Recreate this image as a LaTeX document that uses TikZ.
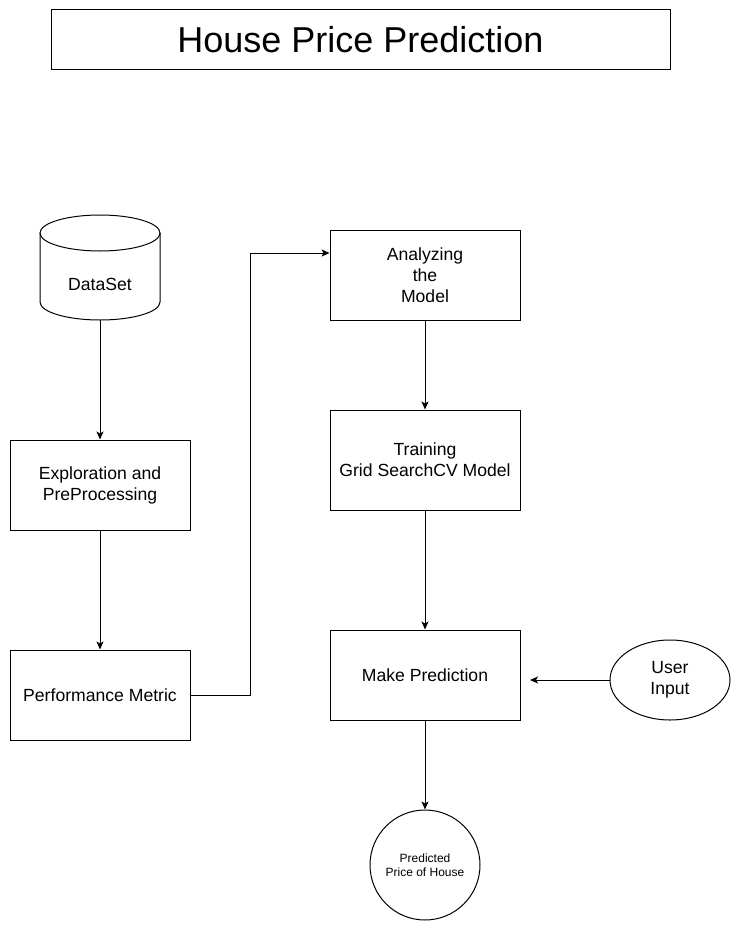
\documentclass[tikz,border=0pt]{standalone}
\usepackage{fontspec}
\setmainfont{Liberation Sans}
\usetikzlibrary{arrows.meta,shapes.geometric}
\begin{document}
\begin{tikzpicture}[x=1pt,y=-1pt,
  every node/.style={font=\fontsize{17.6}{21}\selectfont, align=center, inner sep=0pt},
  stepbox/.style={draw, line width=1pt, minimum width=180pt, minimum height=90pt},
  flow/.style={draw, line width=1pt, -{Stealth[length=8pt,width=7pt,inset=2pt]}}]
\useasboundingbox (0,0) rectangle (741,931);
\fill[white] (0,0) rectangle (741,931);

% title banner
\node[draw, line width=1pt, minimum width=619pt, minimum height=60pt,
      font=\fontsize{36}{40}\selectfont] (title) at (360.5,40) {House Price Prediction};

% dataset cylinder
\draw[line width=1pt] (40,233) -- (40,302) arc[start angle=180,end angle=0,x radius=60,y radius=18]
  -- (160,233);
\draw[line width=1pt] (100,233) ellipse[x radius=60,y radius=18];
\node (data) at (100,284) {DataSet};
\coordinate (dataBot) at (100,320);

% left column
\node[stepbox] (explore) at (100,485) {Exploration and\\PreProcessing};
\node[stepbox] (perf) at (100,695) {Performance Metric};

% right column
\node[stepbox, minimum width=190pt] (analyze) at (425,275) {Analyzing\\the\\ Model};
\node[stepbox, minimum width=190pt, minimum height=100pt] (train) at (425,460) {Training\\ Grid SearchCV Model};
\node[stepbox, minimum width=190pt] (predict) at (425,675) {Make Prediction};

% user input and output
\node[draw, ellipse, line width=1pt, minimum width=120pt, minimum height=80pt] (user) at (670,680) {User\\Input};
\node[draw, circle, line width=1pt, minimum size=110pt, font=\fontsize{12}{14}\selectfont] (result) at (425,865) {Predicted\\Price of House};
\coordinate (userTip) at (530,680);

% connectors
\draw[flow] (dataBot) -- (explore.north);
\draw[flow] (explore.south) -- (perf.north);
\draw[flow] (perf.east) -- (250,695) -- (250,253) -- (analyze.west |- 0,253);
\draw[flow] (analyze.south) -- (train.north);
\draw[flow] (train.south) -- (predict.north);
\draw[flow] (user.west) -- (userTip);
\draw[flow] (predict.south) -- (result.north);
\end{tikzpicture}
\end{document}
